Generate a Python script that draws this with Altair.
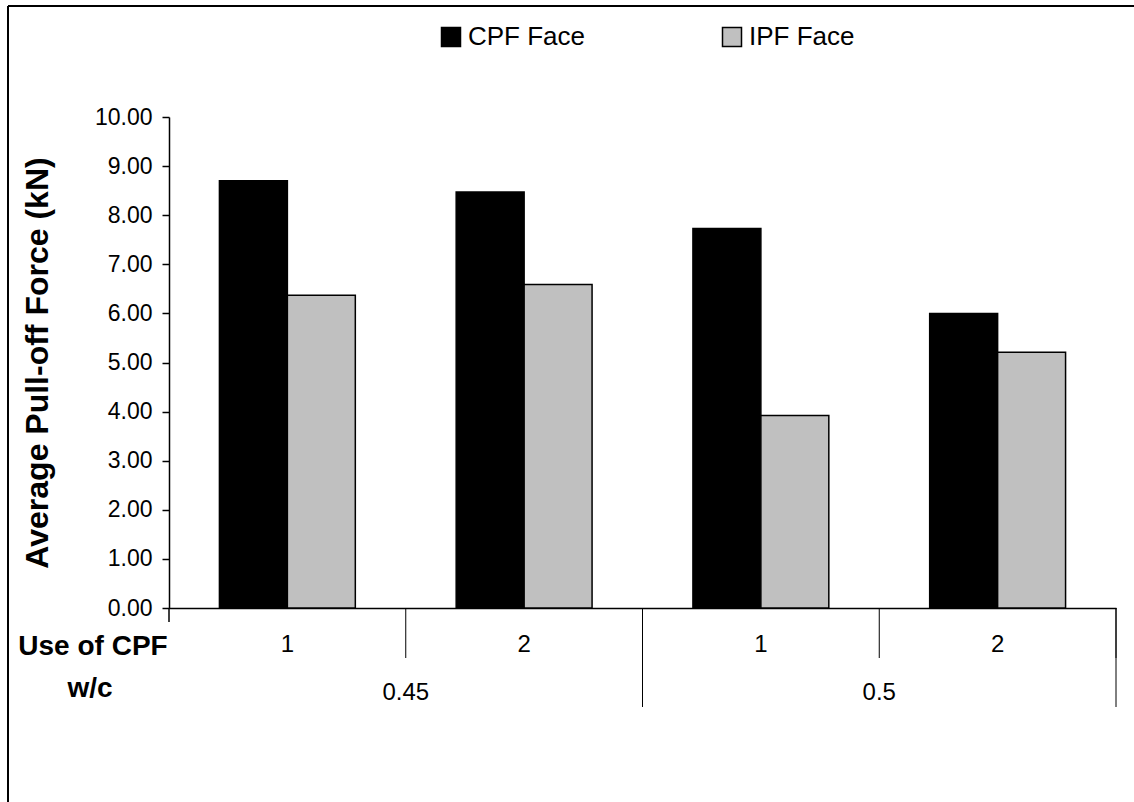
import altair as alt
import pandas as pd

# ---- data ----
wc_levels = ["0.45", "0.45", "0.5", "0.5"]
use_levels = ["1", "2", "1", "2"]
series_names = ["CPF Face", "IPF Face"]
cpf_values = [8.70, 8.47, 7.73, 6.00]
ipf_values = [6.37, 6.59, 3.92, 5.21]
y_ticks = [0, 1, 2, 3, 4, 5, 6, 7, 8, 9, 10]
row_titles = ["Use of CPF", "w/c"]
y_title = "Average Pull-off Force (kN)"

FONT = "Liberation Sans"
W, H = 947, 491

keys = [f"{w}|{u}" for w, u in zip(wc_levels, use_levels)]
wc_unique = list(dict.fromkeys(wc_levels))

rows = []
for k, w, u, c, i in zip(keys, wc_levels, use_levels, cpf_values, ipf_values):
    rows.append({"key": k, "wc": w, "use": u, "series": series_names[0], "value": c})
    rows.append({"key": k, "wc": w, "use": u, "series": series_names[1], "value": i})
bars_df = pd.DataFrame(rows)
cat_df = pd.DataFrame({"key": keys, "wc": wc_levels, "use": use_levels})
wc_df = pd.DataFrame({"wc": wc_unique})
one_df = pd.DataFrame({"a": [0]})

bars = alt.Chart(bars_df).mark_bar(stroke="black", strokeWidth=1.5).encode(
    x=alt.X("key:N", sort=keys,
            scale=alt.Scale(paddingInner=0.426, paddingOuter=0.213),
            axis=alt.Axis(labels=False, ticks=False, title=None,
                          domainColor="black", domainWidth=1.5)),
    xOffset=alt.XOffset("series:N", sort=series_names,
                        scale=alt.Scale(paddingInner=0, paddingOuter=0)),
    y=alt.Y("value:Q", scale=alt.Scale(domain=[0, 10], nice=False, zero=True),
            axis=alt.Axis(values=y_ticks, format=".2f", grid=False,
                          domainColor="black", domainWidth=1.5,
                          tickColor="black", tickWidth=1.5, tickSize=7,
                          labelPadding=10, labelFontSize=23, labelFont=FONT,
                          labelColor="black", title=y_title,
                          titleFont=FONT, titleFontSize=32,
                          titleFontWeight="bold", titleColor="black",
                          titlePadding=40)),
    color=alt.Color("series:N", sort=series_names,
                    scale=alt.Scale(domain=series_names,
                                    range=["#000000", "#C0C0C0"]),
                    legend=alt.Legend(title=None, orient="none",
                                      legendX=269, legendY=-93,
                                      direction="horizontal", columns=2,
                                      padding=0,
                                      symbolType="square", symbolSize=361,
                                      symbolStrokeColor="black",
                                      symbolStrokeWidth=1.5,
                                      labelFont=FONT, labelFontSize=26,
                                      labelColor="black", labelOffset=4,
                                      columnPadding=133)),
)

minor_rules = alt.Chart(cat_df).mark_rule(color="black", strokeWidth=1).encode(
    x=alt.X("key:N", sort=keys, bandPosition=1,
            scale=alt.Scale(paddingInner=0, paddingOuter=0), axis=None),
    y=alt.value(H), y2=alt.value(H + 50),
)

major_rules = alt.Chart(wc_df).mark_rule(color="black", strokeWidth=1).encode(
    x=alt.X("wc:N", sort=wc_unique, bandPosition=1,
            scale=alt.Scale(paddingInner=0, paddingOuter=0), axis=None),
    y=alt.value(H), y2=alt.value(H + 99),
)

left_ext = alt.Chart(one_df).mark_rule(color="black", strokeWidth=1.5).encode(
    x=alt.value(0), y=alt.value(H), y2=alt.value(H + 14),
)

use_text = alt.Chart(cat_df).mark_text(font=FONT, fontSize=24, color="black",
                                       baseline="middle").encode(
    x=alt.X("key:N", sort=keys,
            scale=alt.Scale(paddingInner=0, paddingOuter=0), axis=None),
    y=alt.value(528),
    text="use:N",
)

wc_text = alt.Chart(wc_df).mark_text(font=FONT, fontSize=24, color="black",
                                     baseline="middle").encode(
    x=alt.X("wc:N", sort=wc_unique,
            scale=alt.Scale(paddingInner=0, paddingOuter=0), axis=None),
    y=alt.value(576),
    text="wc:N",
)

title1 = alt.Chart(one_df).mark_text(font=FONT, fontSize=28, fontWeight="bold",
                                     color="black", baseline="middle").encode(
    x=alt.value(-76), y=alt.value(530), text=alt.value(row_titles[0]),
)
title2 = alt.Chart(one_df).mark_text(font=FONT, fontSize=28, fontWeight="bold",
                                     color="black", baseline="middle").encode(
    x=alt.value(-79), y=alt.value(572), text=alt.value(row_titles[1]),
)

border_top = alt.Chart(one_df).mark_rule(color="black", strokeWidth=2).encode(
    x=alt.value(-161), x2=alt.value(1134 - 169), y=alt.value(-111),
)
border_left = alt.Chart(one_df).mark_rule(color="black", strokeWidth=2).encode(
    x=alt.value(-161), y=alt.value(-111), y2=alt.value(802 - 117),
)

chart = alt.layer(
    bars, minor_rules, major_rules, left_ext, use_text, wc_text,
    title1, title2, border_top, border_left,
).resolve_scale(
    x="independent"
).properties(
    width=W, height=H,
    autosize=alt.AutoSizeParams(type="none"),
    padding={"left": 169, "top": 117, "right": 18, "bottom": 194},
    background="white",
).configure_view(strokeWidth=0)

chart.save("out.html", embed_options={"renderer": "svg", "actions": False})
